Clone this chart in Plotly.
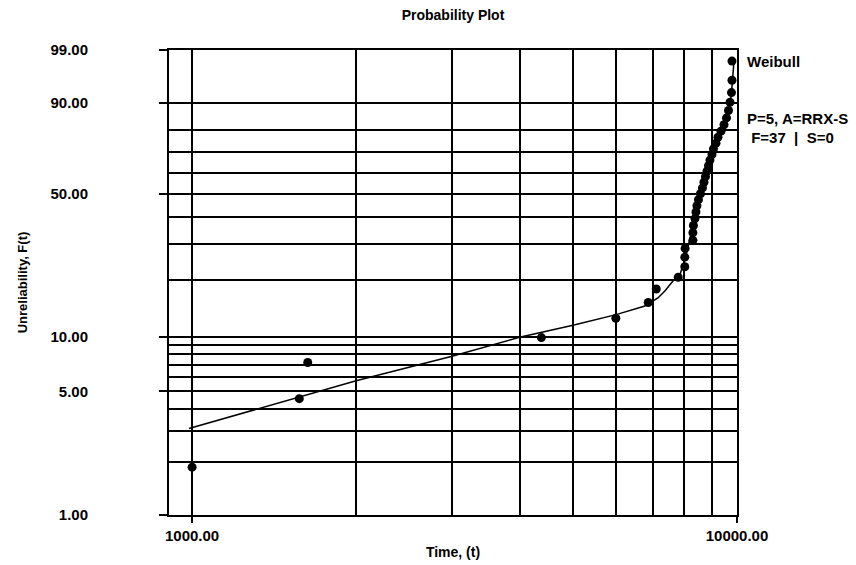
import numpy as np
import plotly.graph_objects as go

# ---- data ----
fail_times = [1000, 1573, 1630, 4375, 5993, 6873, 7110, 7800, 8020, 8020, 8030,
              8300, 8300, 8318, 8372, 8407, 8443, 8497, 8569, 8642, 8697, 8752,
              8808, 8864, 8920, 8996, 9053, 9150, 9227, 9346, 9465, 9566, 9647,
              9708, 9770, 9790, 9790]
unrel_pct = [1.87, 4.55, 7.22, 9.89, 12.57, 15.24, 17.91, 20.59, 23.26, 25.94,
             28.61, 31.28, 33.96, 36.63, 39.30, 41.98, 44.65, 47.33, 50.00, 52.67,
             55.35, 58.02, 60.70, 63.37, 66.04, 68.72, 71.39, 74.06, 76.74, 79.41,
             82.09, 84.76, 87.43, 90.11, 92.78, 95.45, 98.13]

fit_times = [987, 2000, 3000, 3990, 5000, 6000, 6775, 7159, 7373, 7628, 7857,
             8060, 8300, 8560, 8920, 9300, 9600, 9760, 9870]
fit_pct = [3.09, 5.73, 7.81, 9.93, 11.54, 13.14, 14.59, 16.09, 17.5, 19.7, 21.2,
           26.3, 36.6, 49.0, 65.5, 78.0, 85.5, 92.0, 98.0]

y_major = [1, 5, 10, 50, 90, 99]
y_major_text = ["1.00", "5.00", "10.00", "50.00", "90.00", "99.00"]
y_minor = [2, 3, 4, 6, 7, 8, 9, 20, 30, 40, 60, 70, 80]
x_major = [1000, 10000]
x_major_text = ["1000.00", "10000.00"]
x_minor = [2000, 3000, 4000, 5000, 6000, 7000, 8000, 9000]


def weib(p):
    p = np.asarray(p, dtype=float) / 100.0
    return np.log(-np.log(1.0 - p))


FONT = "Liberation Sans, Arial, sans-serif"


def f(size):
    return dict(family=FONT, size=size, color="black", weight="bold")


fig = go.Figure()
fig.add_trace(go.Scatter(x=fit_times, y=weib(fit_pct), mode="lines",
                         line=dict(color="black", width=1.5), showlegend=False,
                         hoverinfo="skip"))
fig.add_trace(go.Scatter(x=fail_times, y=weib(unrel_pct), mode="markers",
                         marker=dict(color="black", size=9, symbol="circle"),
                         showlegend=False))

fig.update_layout(
    width=856, height=565,
    margin=dict(l=169, r=119, t=50, b=50, autoexpand=False),
    paper_bgcolor="white", plot_bgcolor="white",
    font=f(14),
    title=dict(text="Probability Plot", x=0.5, xref="paper", y=1 - 15 / 565,
               yanchor="middle", automargin=False, font=f(14)),
    xaxis=dict(
        type="log", range=[np.log10(907), 4.0], automargin=False,
        tickmode="array", tickvals=x_major, ticktext=x_major_text,
        ticks="outside", ticklen=6, tickwidth=2, tickcolor="black",
        showgrid=True, gridcolor="black", gridwidth=2,
        showline=True, linecolor="black", linewidth=2, mirror=True,
        zeroline=False,
        tickfont=f(15),
        title=dict(text="Time, (t)", standoff=4, font=f(14)),
        minor=dict(tickmode="array", tickvals=x_minor, showgrid=True,
                   gridcolor="black", gridwidth=2, ticks=""),
    ),
    yaxis=dict(
        range=[float(weib(1)), float(weib(99))], automargin=False,
        tickmode="array", tickvals=list(weib(y_major)), ticktext=y_major_text,
        ticks="outside", ticklen=8, tickwidth=2, tickcolor="black",
        ticklabelstandoff=68,
        showgrid=True, gridcolor="black", gridwidth=2,
        showline=True, linecolor="black", linewidth=2, mirror=True,
        zeroline=False,
        tickfont=f(15),
        title=dict(text="Unreliability, F(t)", standoff=20, font=f(13)),
        minor=dict(tickmode="array", tickvals=list(weib(y_minor)), showgrid=True,
                   gridcolor="black", gridwidth=2, ticks=""),
    ),
    annotations=[
        dict(text="Weibull", xref="paper", yref="paper", x=1.014, y=(515 - 62) / 465,
             xanchor="left", yanchor="middle", showarrow=False, font=f(15)),
        dict(text="P=5, A=RRX-S", xref="paper", yref="paper", x=1.014,
             y=(515 - 118) / 465, xanchor="left", yanchor="middle", showarrow=False,
             font=f(15)),
        dict(text=" F=37  |  S=0", xref="paper", yref="paper", x=1.014,
             y=(515 - 137) / 465, xanchor="left", yanchor="middle", showarrow=False,
             font=f(15)),
    ],
)

fig.write_html("out.html", config={"displayModeBar": False},
               post_script="document.body.style.margin='0';"
                           "document.body.style.overflow='hidden';")
